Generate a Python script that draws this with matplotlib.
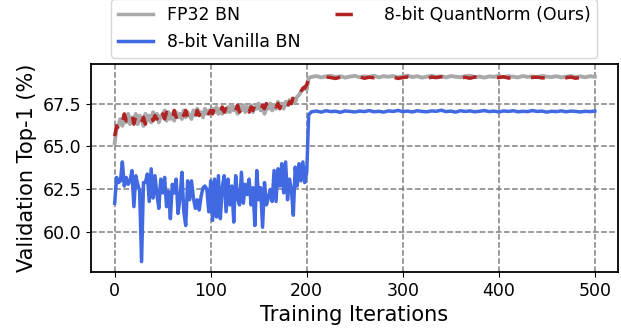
import matplotlib
matplotlib.use("Agg")
import matplotlib.pyplot as plt
from matplotlib.lines import Line2D

# iterations: every 2 up to 200, then the jump, then every 5
iters = list(range(0, 201, 2)) + [202] + list(range(205, 501, 5))

fp32_bn = [
    65.2, 66.1, 66.3, 66.6, 66.2, 66.8, 66.4, 66.9, 66.3, 66.7,
    66.5, 66.9, 66.3, 66.8, 66.6, 66.2, 66.9, 66.5, 66.8, 66.4,
    67.0, 66.6, 66.9, 66.4, 66.8, 66.7, 67.1, 66.5, 67.0, 66.6,
    66.9, 66.5, 67.0, 66.7, 66.9, 66.6, 67.1, 66.7, 67.0, 66.8,
    66.6, 67.1, 66.8, 67.2, 66.9, 67.0, 66.7, 67.2, 66.9, 67.1,
    66.9, 67.2, 67.0, 67.3, 66.9, 67.2, 66.9, 67.2, 67.0, 67.3,
    67.0, 67.4, 67.1, 67.3, 66.9, 67.3, 67.1, 67.4, 67.0, 67.3,
    67.1, 67.4, 67.0, 67.3, 67.2, 67.5, 67.1, 67.4, 66.9, 67.3,
    67.2, 67.5, 67.1, 67.4, 67.2, 67.6, 67.3, 67.5, 67.2, 67.6,
    67.4, 67.7, 67.5, 67.8, 67.6, 67.9, 68.0, 68.2, 68.3, 68.5,
    68.3,
    69.0,
    69.05, 69.10, 69.02, 69.08, 69.12, 69.04, 69.09, 69.01, 69.07, 69.11,
    69.03, 69.08, 69.05, 69.12, 69.02, 69.09, 69.06, 69.10, 69.03, 69.07,
    69.12, 69.04, 69.09, 69.01, 69.06, 69.11, 69.05, 69.08, 69.02, 69.10,
    69.06, 69.03, 69.09, 69.12, 69.04, 69.07, 69.01, 69.08, 69.05, 69.11,
    69.03, 69.09, 69.06, 69.02, 69.10, 69.05, 69.08, 69.03, 69.11, 69.06,
    69.04, 69.09, 69.02, 69.07, 69.10, 69.05, 69.08, 69.03, 69.09, 69.06,
]

vanilla_bn = [
    61.7, 63.2, 62.9, 63.0, 64.1, 62.7, 63.2, 62.8, 63.0, 63.6,
    61.5, 63.3, 62.8, 62.4, 58.3, 62.9, 62.9, 63.4, 61.8, 63.7,
    62.0, 63.3, 62.2, 61.4, 63.1, 62.3, 63.2, 61.5, 62.4, 60.8,
    62.8, 62.3, 63.1, 61.1, 62.0, 63.5, 61.2, 60.4, 63.0, 61.9,
    63.0, 62.0, 61.4, 61.9, 61.3, 62.1, 62.6, 62.7, 62.5, 61.2,
    63.0, 60.7, 63.1, 60.9, 63.3, 60.8, 62.6, 63.3, 61.2, 63.1,
    61.6, 62.7, 60.6, 63.3, 62.0, 61.6, 63.5, 61.7, 62.8, 62.2,
    63.1, 61.6, 62.6, 60.4, 63.6, 61.9, 62.6, 60.3, 62.9, 61.6,
    62.0, 62.5, 61.8, 63.6, 61.8, 63.7, 62.7, 64.0, 62.3, 64.1,
    61.9, 63.1, 62.5, 61.0, 63.8, 62.7, 64.0, 63.0, 64.1, 62.9,
    63.5,
    66.85,
    67.02, 67.06, 67.00, 67.08, 67.03, 67.05, 66.99, 67.07, 67.04, 67.01,
    67.06, 67.03, 67.09, 67.02, 67.05, 67.00, 67.07, 67.04, 67.10, 67.03,
    67.06, 67.01, 67.08, 67.04, 67.02, 67.07, 67.05, 67.11, 67.03, 67.06,
    67.00, 67.08, 67.04, 67.07, 67.02, 67.05, 67.09, 67.03, 67.06, 67.01,
    67.07, 67.04, 67.08, 67.02, 67.05, 67.03, 67.09, 67.04, 67.06, 67.00,
    67.05, 67.03, 67.07, 67.02, 67.06, 67.04, 67.01, 67.05, 67.03, 67.06,
]

quantnorm = [
    65.6, 66.2, 66.0, 66.7, 66.4, 66.9, 66.5, 66.7, 66.4, 66.9,
    66.3, 66.8, 66.6, 66.9, 66.4, 66.7, 66.3, 66.8, 66.6, 66.9,
    66.5, 66.8, 66.6, 67.0, 66.5, 66.9, 66.6, 67.0, 66.7, 66.9,
    66.5, 67.1, 66.7, 66.9, 66.5, 67.0, 66.8, 67.1, 66.7, 67.0,
    66.8, 67.0, 66.7, 67.1, 66.8, 67.2, 66.9, 67.0, 67.2, 66.9,
    67.1, 66.9, 67.3, 67.0, 67.2, 66.9, 67.3, 67.0, 67.2, 67.1,
    67.3, 67.0, 67.3, 67.1, 67.4, 67.0, 67.3, 67.1, 67.4, 67.2,
    67.0, 67.3, 67.1, 67.4, 67.1, 67.3, 67.0, 67.4, 67.2, 67.5,
    67.1, 67.3, 67.2, 67.5, 67.3, 67.5, 67.2, 67.6, 67.4, 67.7,
    67.3, 67.6, 67.5, 67.9, 67.6, 68.0, 67.9, 68.2, 68.4, 68.4,
    68.6,
    68.95,
    69.00, 69.04, 68.98, 69.05, 69.01, 68.96, 69.03, 69.06, 68.99, 69.02,
    69.05, 68.97, 69.03, 69.00, 69.06, 68.98, 69.02, 69.04, 68.96, 69.01,
    69.05, 68.99, 69.03, 69.00, 68.95, 69.04, 69.01, 69.06, 68.98, 69.02,
    69.04, 68.99, 69.03, 68.97, 69.05, 69.00, 69.02, 68.96, 69.04, 69.01,
    69.06, 68.98, 69.03, 69.00, 69.05, 68.97, 69.02, 69.04, 68.99, 69.01,
    69.05, 68.98, 69.03, 69.00, 69.04, 68.97, 69.02, 69.05, 69.00, 69.02,
]

labels = ["FP32 BN", "8-bit Vanilla BN", "8-bit QuantNorm (Ours)"]
c_grey = "darkgray"
c_blue = "royalblue"
c_red = "firebrick"

fig = plt.figure(figsize=(6.21, 3.3), dpi=100)
ax = fig.add_axes([0.146, 0.176, 0.849, 0.630])

ax.plot(iters, fp32_bn, color=c_grey, lw=2.8, zorder=2)
ax.plot(iters, vanilla_bn, color=c_blue, lw=2.5, zorder=3)
ax.plot(iters, quantnorm, color=c_red, lw=2.5, dashes=(4, 6), zorder=4)

ax.set_xlim(-25, 524)
ax.set_ylim(57.7, 69.8)
ax.set_xticks([0, 100, 200, 300, 400, 500])
ax.set_yticks([60.0, 62.5, 65.0, 67.5])
ax.tick_params(labelsize=12.5)
ax.grid(True, linestyle="--", color="gray", lw=1.1)
ax.set_axisbelow(True)
for s in ax.spines.values():
    s.set_linewidth(1.3)

ax.set_xlabel("Training Iterations", fontsize=15)
ax.set_ylabel("Validation Top-1 (%)", fontsize=15)

# legend handle for the dashed line uses a longer gap, so only one dash shows
handles = [
    Line2D([], [], color=c_grey, lw=2.5),
    Line2D([], [], color=c_blue, lw=2.5),
    Line2D([], [], color=c_red, lw=2.5, dashes=(5, 9)),
]
ax.legend(handles, labels, ncol=2,
          loc="lower center", bbox_to_anchor=(0.5, 1.0), fontsize=12.5,
          borderaxespad=0.35)

fig.savefig("out.png", dpi=100)
